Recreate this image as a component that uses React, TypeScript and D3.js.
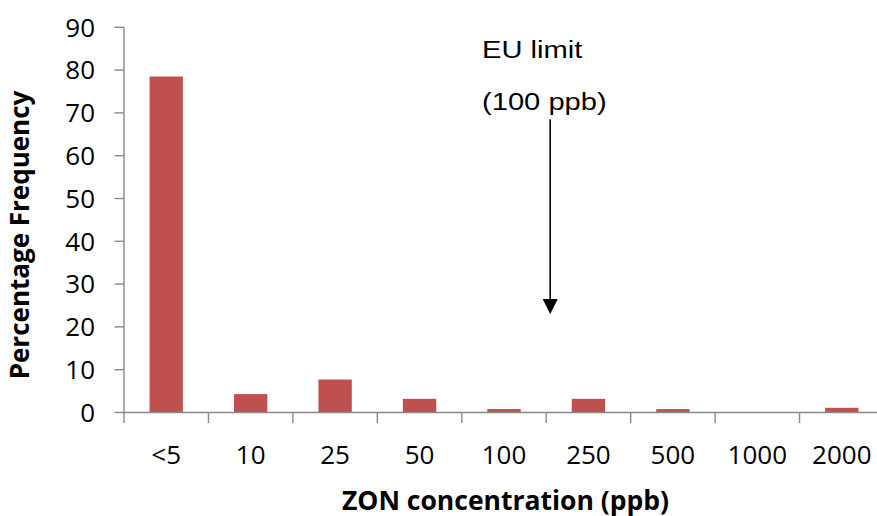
import React from "react";
import * as d3 from "d3";

// Concentration classes (ppb) and the share of samples falling in each
const categories = ["<5", "10", "25", "50", "100", "250", "500", "1000", "2000"];
const frequency = [78.5, 4.3, 7.7, 3.2, 0.8, 3.2, 0.8, 0, 1.1];
const yTicks = [0, 10, 20, 30, 40, 50, 60, 70, 80, 90];

// EU limit annotation: arrow drawn from 68.5 % down to 23 %, between the 100 and 250 classes
const limitLabel = ["EU limit", "(100 ppb)"];
const arrowFrom = 68.5;
const arrowTo = 23;

const W = 877;
const H = 516;
const left = 124;
const right = 884;
const top = 27.3;
const bottom = 412.5;

const axisColor = "#898989";
const barColor = "#C0504D";
const calibriLike = "'Open Sans', 'Noto Sans', sans-serif";
const arialLike = "'Liberation Sans', Arial, sans-serif";

export default function App() {
  const p = 0.605;
  const x = d3
    .scaleBand<string>()
    .domain(categories)
    .range([left, right])
    .paddingInner(p)
    .paddingOuter(p / 2);
  const y = d3.scaleLinear().domain([0, 90]).range([bottom, top]);

  const gap = (x.step() - x.bandwidth()) / 2;
  const boundaries = categories.map((c) => (x(c) as number) - gap);
  boundaries.push(right);

  const arrowX = (x("250") as number) - gap + 4;
  const tipY = y(arrowTo);
  const headH = 15;
  const headW = 15;

  return (
    <div style={{ position: "absolute", left: 0, top: 0 }}>
      <svg width={W} height={H} style={{ display: "block", background: "#fff", overflow: "hidden" }}>
        <rect width={W} height={H} fill="#fff" />

        {/* bars */}
        {categories.map((c, i) => (
          <rect
            key={c}
            x={x(c)}
            y={y(frequency[i])}
            width={x.bandwidth()}
            height={bottom - y(frequency[i])}
            fill={barColor}
          />
        ))}

        {/* y axis */}
        <line x1={left} x2={left} y1={top} y2={bottom} stroke={axisColor} strokeWidth={1.4} />
        {yTicks.map((t) => (
          <g key={t}>
            <line x1={left - 9.5} x2={left} y1={y(t)} y2={y(t)} stroke={axisColor} strokeWidth={1.4} />
            <text
              x={95}
              y={y(t)}
              dy="0.36em"
              textAnchor="end"
              fontFamily={calibriLike}
              fontSize={26}
              fill="#000"
            >
              {t}
            </text>
          </g>
        ))}

        {/* x axis */}
        <line x1={left} x2={right} y1={bottom} y2={bottom} stroke={axisColor} strokeWidth={1.4} />
        {boundaries.map((b, i) => (
          <line key={i} x1={b} x2={b} y1={bottom} y2={bottom + 10.5} stroke={axisColor} strokeWidth={1.4} />
        ))}
        {categories.map((c) => (
          <text
            key={c}
            x={(x(c) as number) + x.bandwidth() / 2}
            y={464}
            textAnchor="middle"
            fontFamily={calibriLike}
            fontSize={26}
            fill="#000"
          >
            {c}
          </text>
        ))}

        {/* axis titles */}
        <text
          x={(left + right) / 2 + 1.5}
          y={509.5}
          textAnchor="middle"
          fontFamily={calibriLike}
          fontWeight={700}
          fontSize={26.5}
          fill="#000"
        >
          ZON concentration (ppb)
        </text>
        <text
          transform={`translate(29, 235) rotate(-90)`}
          textAnchor="middle"
          fontFamily={calibriLike}
          fontWeight={700}
          fontSize={26}
          fill="#000"
        >
          Percentage Frequency
        </text>

        {/* EU limit annotation */}
        {limitLabel.map((s, i) => (
          <text
            key={s}
            transform={`translate(482, ${58 + i * 51.5}) scale(1.18, 1)`}
            fontFamily={arialLike}
            fontSize={24.7}
            fill="#000"
          >
            {s}
          </text>
        ))}
        <line x1={arrowX} x2={arrowX} y1={y(arrowFrom)} y2={tipY - headH + 1} stroke="#000" strokeWidth={1.6} />
        <path
          d={`M${arrowX - headW / 2},${tipY - headH} L${arrowX + headW / 2},${tipY - headH} L${arrowX},${tipY} Z`}
          fill="#000"
        />
      </svg>
    </div>
  );
}
